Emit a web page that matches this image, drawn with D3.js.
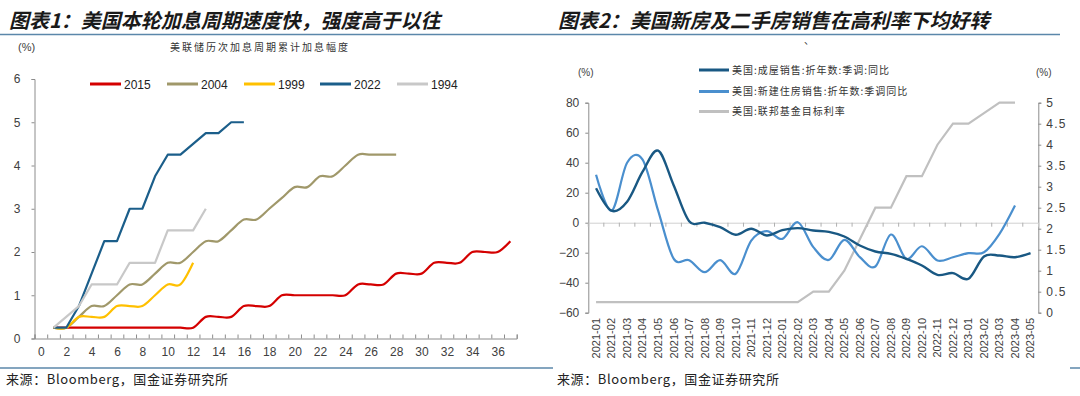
<!DOCTYPE html>
<html>
<head>
<meta charset="utf-8">
<script src="https://cdn.jsdelivr.net/npm/d3@7"></script>
<style>
  body { margin: 0; background: #fff; }
  svg { display: block; }
  .num { font-family: "Liberation Sans", Arial, sans-serif; font-size: 12px; fill: #404040; }
  .cjk { font-family: "Noto Sans CJK SC", sans-serif; }
</style>
</head>
<body>
<div id="chart"></div>
<script>
// ---- left chart: cumulative hikes per cycle, month 1..n ----
var cycles = ["2015", "2004", "1999", "2022", "1994"];
var hike2015 = [0.25, 0.25, 0.25, 0.25, 0.25, 0.25, 0.25, 0.25, 0.25, 0.25, 0.25, 0.25,
    0.5, 0.5, 0.5, 0.75, 0.75, 0.75, 1.0, 1.0, 1.0, 1.0, 1.0, 1.0,
    1.25, 1.25, 1.25, 1.5, 1.5, 1.5, 1.75, 1.75, 1.75, 2.0, 2.0, 2.0, 2.25];
var hike2004 = [0.25, 0.25, 0.5, 0.75, 0.75, 1.0, 1.25, 1.25, 1.5, 1.75, 1.75, 2.0, 2.25, 2.25,
    2.5, 2.75, 2.75, 3.0, 3.25, 3.5, 3.5, 3.75, 3.75, 4.0, 4.25, 4.25, 4.25, 4.25];
var hike1999 = [0.25, 0.25, 0.5, 0.5, 0.5, 0.75, 0.75, 0.75, 1.0, 1.25, 1.25, 1.75];
var hike2022 = [0.25, 0.25, 0.75, 1.5, 2.25, 2.25, 3.0, 3.0, 3.75, 4.25, 4.25, 4.5, 4.75, 4.75, 5.0, 5.0];
var hike1994 = [0.25, 0.5, 0.75, 1.25, 1.25, 1.25, 1.75, 1.75, 1.75, 2.5, 2.5, 2.5, 3.0];
var leftYTicks = [0, 1, 2, 3, 4, 5, 6];
var leftXLabels = [0, 2, 4, 6, 8, 10, 12, 14, 16, 18, 20, 22, 24, 26, 28, 30, 32, 34, 36];

// ---- right chart: US home sales yoy and fed funds target ----
var months = ["2021-01", "2021-02", "2021-03", "2021-04", "2021-05", "2021-06", "2021-07", "2021-08",
    "2021-09", "2021-10", "2021-11", "2021-12", "2022-01", "2022-02", "2022-03", "2022-04", "2022-05",
    "2022-06", "2022-07", "2022-08", "2022-09", "2022-10", "2022-11", "2022-12", "2023-01", "2023-02",
    "2023-03", "2023-04", "2023-05"];
var existingSales = [23, 8, 14, 34, 48, 25, 1, 0, -3, -8, -4, -8.5, -5, -3.6, -5.2, -6.1, -9.2,
    -15.2, -19.2, -20.8, -24.1, -28.5, -34.8, -33.6, -37.4, -22.5, -21.9, -23, -20.3];
var newSales = [32, 8, 40, 42, 8, -24, -25, -33, -25, -34, -12, -5.6, -10.8, 0.3, -16.3, -24.8,
    -11.4, -23, -29.2, -7.9, -24.1, -15.7, -25.2, -23, -20.3, -19.7, -7.4, 11.5];
var fedRate = [0.25, 0.25, 0.25, 0.25, 0.25, 0.25, 0.25, 0.25, 0.25, 0.25, 0.25, 0.25, 0.25, 0.25,
    0.5, 0.5, 1.0, 1.75, 2.5, 2.5, 3.25, 3.25, 4.0, 4.5, 4.5, 4.75, 5.0, 5.0];
var rightNames = ["美国:成屋销售:折年数:季调:同比", "美国:新建住房销售:折年数:季调同比", "美国:联邦基金目标利率"];
var rightYTicks = [-60, -40, -20, 0, 20, 40, 60, 80];
var rateTicks = [0, 0.5, 1, 1.5, 2, 2.5, 3, 3.5, 4, 4.5, 5];

var svg = d3.select("#chart").append("svg")
    .attr("width", 1080)
    .attr("height", 396);

// header / footer rules
svg.append("line").attr("x1", 0).attr("x2", 1060).attr("y1", 34.5).attr("y2", 34.5)
    .style("stroke", "#5b87aa").style("stroke-width", 1.5);
svg.append("line").attr("x1", 0).attr("x2", 553).attr("y1", 368).attr("y2", 368)
    .style("stroke", "#5b87aa").style("stroke-width", 1.5);
svg.append("line").attr("x1", 1070).attr("x2", 1080).attr("y1", 368).attr("y2", 368)
    .style("stroke", "#5b87aa").style("stroke-width", 1.5);

function title(x, txt) {
    // CJK font has no italic face, so slant it by hand
    svg.append("text").attr("class", "cjk")
        .attr("transform", "translate(" + x + ",28) skewX(-14)")
        .style("font-size", "20px").style("font-weight", 700)
        .style("fill", "#1a1a1a")
        .text(txt);
}
title(9, "图表1：美国本轮加息周期速度快，强度高于以往");
title(558, "图表2：美国新房及二手房销售在高利率下均好转");

function footer(x) {
    svg.append("text").attr("class", "cjk")
        .attr("x", x).attr("y", 384)
        .style("font-size", "13px").style("letter-spacing", "0.6px").style("fill", "#222")
        .text("来源：Bloomberg，国金证券研究所");
}
footer(6);
footer(557);

svg.append("text").attr("class", "cjk").attr("x", 804).attr("y", 44)
    .style("font-size", "10px").style("fill", "#333").text("、");

function styleAxis(g) {
    g.select(".domain").style("stroke", "#8c8c8c");
    g.selectAll(".tick line").style("stroke", "#8c8c8c");
    g.selectAll("text").attr("class", "num");
}

function drawLeft() {
    var x = d3.scaleLinear().domain([-0.5, 37.5]).range([34.5, 516.7]);
    var y = d3.scaleLinear().domain([0, 6]).range([338.5, 79]);

    svg.append("text").attr("class", "num").attr("x", 18).attr("y", 51)
        .style("font-size", "11px").text("(%)");
    svg.append("text").attr("class", "cjk").attr("x", 170).attr("y", 51)
        .style("font-size", "10px").style("letter-spacing", "2px").style("fill", "#333")
        .text("美联储历次加息周期累计加息幅度");

    var gy = svg.append("g").attr("transform", "translate(34.5,0)")
        .call(d3.axisLeft(y).tickValues(leftYTicks).tickSize(3).tickPadding(11)
            .tickFormat(d3.format("d")));
    styleAxis(gy);

    // category boundary ticks
    var bounds = d3.range(-0.5, 38, 1);
    var gx = svg.append("g").attr("transform", "translate(0,338.5)")
        .call(d3.axisBottom(x).tickValues(bounds).tickSize(-4).tickFormat(""));
    styleAxis(gx);
    var gl = svg.append("g").attr("transform", "translate(0,338.5)")
        .call(d3.axisBottom(x).tickValues(leftXLabels).tickSize(0).tickPadding(9)
            .tickFormat(d3.format("d")));
    gl.select(".domain").remove();
    styleAxis(gl);

    var series = [
        {name: "2015", values: hike2015, color: "#d40000", smooth: true},
        {name: "2004", values: hike2004, color: "#a0986a", smooth: true},
        {name: "1999", values: hike1999, color: "#ffc000", smooth: true},
        {name: "2022", values: hike2022, color: "#1b5e8a", smooth: false},
        {name: "1994", values: hike1994, color: "#c8c8c8", smooth: false}
    ];

    series.forEach(function(s) {
        var line = d3.line()
            .x(function(d, i) { return x(i + 1); })
            .y(function(d) { return y(d); })
            .curve(s.smooth ? d3.curveCardinal.tension(0) : d3.curveLinear);
        svg.append("path")
            .datum(s.values)
            .style("fill", "none")
            .style("stroke", s.color)
            .style("stroke-width", 2.2)
            .style("stroke-linejoin", "round")
            .attr("d", line);
    });

    // legend
    var lx = [90, 167, 244, 320, 397];
    series.forEach(function(s, i) {
        svg.append("line").attr("x1", lx[i]).attr("x2", lx[i] + 31).attr("y1", 84).attr("y2", 84)
            .style("stroke", s.color).style("stroke-width", 3);
        svg.append("text").attr("class", "num").attr("x", lx[i] + 34).attr("y", 88.5)
            .style("fill", "#222").text(cycles[i]);
    });
}

function drawRight() {
    var x = d3.scaleBand().domain(months).range([588.3, 1038.3]);
    var y = d3.scaleLinear().domain([-60, 80]).range([312.7, 102.7]);
    var yr = d3.scaleLinear().domain([0, 5]).range([312.7, 102.7]);
    var cx = function(m) { return x(m) + x.bandwidth() / 2; };

    svg.append("text").attr("class", "num").attr("x", 578).attr("y", 76)
        .style("font-size", "10px").text("(%)");
    svg.append("text").attr("class", "num").attr("x", 1036).attr("y", 76)
        .style("font-size", "10px").text("(%)");

    var gy = svg.append("g").attr("transform", "translate(588.3,0)")
        .call(d3.axisLeft(y).tickValues(rightYTicks).tickSize(3).tickPadding(6)
            .tickFormat(function(d) { return d < 0 ? "\u2212" + (-d) : d; }));
    styleAxis(gy);

    var gr = svg.append("g").attr("transform", "translate(1038.3,0)")
        .call(d3.axisRight(yr).tickValues(rateTicks).tickSize(3).tickPadding(5)
            .tickFormat(function(d) { return d % 1 ? d.toFixed(1) : d; }));
    styleAxis(gr);
    gr.selectAll("text").style("letter-spacing", "1.2px");

    // zero line with category ticks
    var gx = svg.append("g").attr("transform", "translate(0," + y(0) + ")")
        .call(d3.axisBottom(x).tickSize(4).tickFormat(""));
    gx.select(".domain").style("stroke", "#d0d0d0");
    gx.selectAll(".tick line").attr("transform", "translate(" + (-x.bandwidth() / 2) + ",0)")
        .style("stroke", "#b0b0b0");

    svg.append("g").selectAll("text")
        .data(months)
        .enter().append("text")
        .attr("class", "num")
        .style("font-size", "11px")
        .attr("text-anchor", "end")
        .attr("dy", "0.35em")
        .attr("transform", function(d) { return "translate(" + cx(d) + ",318) rotate(-90)"; })
        .text(function(d) { return d; });

    var lineL = d3.line()
        .x(function(d, i) { return cx(months[i]); })
        .y(function(d) { return y(d); })
        .curve(d3.curveCardinal.tension(0));
    var lineR = d3.line()
        .x(function(d, i) { return cx(months[i]); })
        .y(function(d) { return yr(d); });

    svg.append("path").datum(fedRate)
        .style("fill", "none").style("stroke", "#c0c0c0").style("stroke-width", 2.2)
        .attr("d", lineR);
    svg.append("path").datum(newSales)
        .style("fill", "none").style("stroke", "#4a8fce").style("stroke-width", 2.2)
        .attr("d", lineL);
    svg.append("path").datum(existingSales)
        .style("fill", "none").style("stroke", "#195883").style("stroke-width", 2.4)
        .attr("d", lineL);

    var colors = ["#195883", "#4a8fce", "#c0c0c0"];
    var ly = [70, 91.5, 111.5];
    rightNames.forEach(function(n, i) {
        svg.append("line").attr("x1", 699).attr("x2", 729).attr("y1", ly[i]).attr("y2", ly[i])
            .style("stroke", colors[i]).style("stroke-width", 3);
        svg.append("text").attr("class", "cjk").attr("x", 732).attr("y", ly[i] + 3.5)
            .style("font-size", "10px").style("letter-spacing", "1px").style("fill", "#333")
            .text(n);
    });
}

drawLeft();
drawRight();
</script>
</body>
</html>
